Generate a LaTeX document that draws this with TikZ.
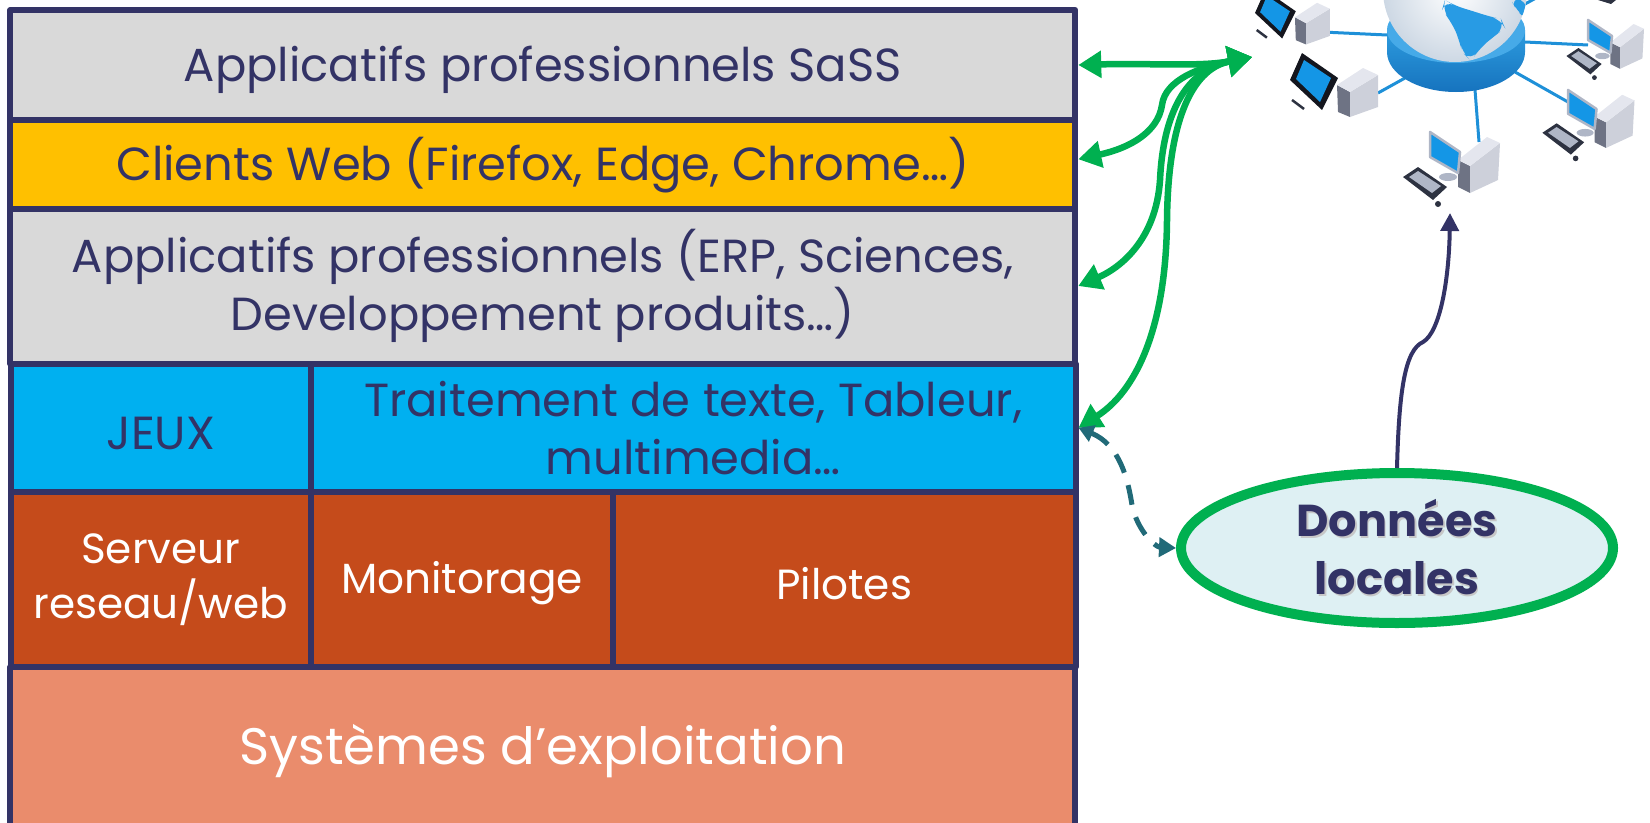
\documentclass[tikz,border=0pt]{standalone}
\usepackage{fontspec}
\setmainfont{Poppins}
\usetikzlibrary{arrows.meta,shapes.geometric}

% grey copy of a word, set just below and right of it
\newcommand{\shadowed}[1]{\makebox[0pt][l]{\hspace{0.15mm}\raisebox{-0.15mm}{\textcolor{black!22}{#1}}}#1}

\begin{document}
\begin{tikzpicture}[x=0.1mm,y=-0.1mm,line join=round,
    cell/.style={draw=frame,line width=0.6mm,inner sep=0pt,align=center,
      text=ink,font={\fontsize{13.2}{16.5}\selectfont},
      execute at begin node={\rule{0pt}{0.95em}}},
    wide/.style={cell,minimum width=106.5mm},
    low/.style={cell,fill=sysbrown,text=white,minimum height=17.5mm,
      font={\fontsize{12}{15.5}\selectfont}},
    link/.style={linkgreen,line width=0.65mm,
      arrows={Triangle[length=2.3mm,width=2.6mm]-Triangle[length=2.4mm,width=3mm]}},
    cable/.style={draw=cableblue,line width=0.3mm}]

    \definecolor{frame}{RGB}{51,51,102}
    \definecolor{ink}{RGB}{51,51,102}
    \definecolor{appgray}{RGB}{217,217,217}
    \definecolor{webyellow}{RGB}{255,192,0}
    \definecolor{userblue}{RGB}{0,176,240}
    \definecolor{sysbrown}{RGB}{197,75,27}
    \definecolor{ossalmon}{RGB}{234,140,108}
    \definecolor{linkgreen}{RGB}{0,176,80}
    \definecolor{dashteal}{RGB}{33,106,120}
    \definecolor{datafill}{RGB}{222,240,243}
    \definecolor{cableblue}{RGB}{30,144,216}
    \definecolor{diskblue}{RGB}{45,155,222}
    \definecolor{diskdark}{RGB}{22,115,190}
    \definecolor{disktop}{RGB}{70,170,232}
    \definecolor{globegray}{RGB}{205,216,228}
    \definecolor{landblue}{RGB}{40,155,228}
    \definecolor{bezel}{RGB}{20,22,30}
    \definecolor{screenblue}{RGB}{20,150,230}
    \definecolor{towerlight}{RGB}{205,208,218}
    \definecolor{towerdark}{RGB}{110,115,132}
    \definecolor{towertop}{RGB}{228,230,238}
    \definecolor{keydark}{RGB}{45,50,65}
    \definecolor{keylight}{RGB}{175,182,198}

    \useasboundingbox (0,0) rectangle (1650,822);

    % software stack
    \node[wide,fill=appgray,minimum height=11mm] (saas) at (542.75,65) {Applicatifs professionnels SaSS};
    \node[wide,fill=webyellow,minimum height=8.85mm] (web) at (542.75,164.25) {Clients Web (Firefox, Edge, Chrome…)};
    \node[wide,fill=appgray,minimum height=15.5mm] (erp) at (542.75,286) {Applicatifs professionnels (ERP, Sciences,\\Developpement produits…)};
    \node[cell,fill=userblue,minimum width=30.05mm,minimum height=12.85mm] (jeux) at (160.75,427.75) {JEUX};
    \node[cell,fill=userblue,minimum width=76.45mm,minimum height=12.85mm] (bureau) at (693.25,427.75) {Traitement de texte, Tableur,\\multimedia…};
    \node[low,minimum width=30.05mm] (serveur) at (160.75,579.5) {Serveur\\reseau/web};
    \node[low,minimum width=30.2mm] (monitor) at (462,579.5) {Monitorage};
    \node[low,minimum width=46.25mm] (pilotes) at (844.25,579.5) {Pilotes};
    \node[wide,fill=ossalmon,text=white,minimum height=15.9mm,font={\fontsize{14.6}{18}\selectfont}] (os) at (542.75,746.5) {Systèmes d’exploitation};

    % network: cables under everything
    \draw[cable] (1322,32) -- (1387,35) (1378,93) -- (1405,78) (1475,90) -- (1479,142)
        (1515,72) -- (1568,102) (1525,42) -- (1588,45) (1525,4) -- (1536,-2);

    % hub disk and globe
    \shade[top color=diskblue,bottom color=diskdark] (1387,30) -- (1387,52)
        arc[start angle=180,end angle=0,x radius=69,y radius=40] -- (1525,30) -- cycle;
    \fill[disktop] (1456,30) ellipse[x radius=69,y radius=33];
    \shade[inner color=white,outer color=globegray] (1455,-10) circle[radius=72];
    \begin{scope}
        \clip (1455,-10) circle[radius=72];
        \fill[landblue,rounded corners=3] (1445,0) -- (1455,6) -- (1473,11) -- (1487,16) -- (1501,19)
            -- (1505,28) -- (1492,38) -- (1480,48) -- (1471,61) -- (1462,52) -- (1459,39)
            -- (1452,23) -- (1442,10) -- cycle;
        \fill[landblue,rounded corners=3] (1510,-2) -- (1527,0) -- (1527,20) -- (1517,11) -- cycle;
    \end{scope}

    % tablets with their towers
    \foreach \x/\y/\s in {1290/80/1, 1255/13/0.85} {
        \begin{scope}[shift={(\x,\y)},scale=\s]
            \fill[towerdark] (47,5) -- (60,12) -- (60,37) -- (48,32) -- cycle;
            \fill[towerlight] (60,12) -- (88,-5) -- (88,27) -- (60,37) -- cycle;
            \fill[towertop] (47,5) -- (73,-12) -- (88,-5) -- (60,12) -- cycle;
            \fill[bezel] (0,0) -- (12,-27) -- (48,-2) -- (32,30) -- cycle;
            \fill[screenblue] (6,-1) -- (14,-20) -- (41,-2) -- (30,22) -- cycle;
            \draw[keydark,line width=0.25mm] (2,20) -- (14,29);
        \end{scope}
    }

    % desktops
    \foreach \x/\y/\s in {1430/132/1, 1568/90/0.95, 1588/20/0.8} {
        \begin{scope}[shift={(\x,\y)},scale=\s]
            \fill[keydark] (-27,45) -- (-12,35) -- (17,55) -- (3,68) -- cycle;
            \fill[keylight] (-21,45) -- (-12,39) -- (11,54) -- (2,61) -- cycle;
            \fill[keydark] (8,72) circle[radius=3];
            \fill[towerdark] (28,28) -- (40,34) -- (40,61) -- (28,55) -- cycle;
            \fill[towerlight] (40,34) -- (70,11) -- (68,48) -- (40,61) -- cycle;
            \fill[towertop] (28,28) -- (57,5) -- (70,11) -- (40,34) -- cycle;
            \fill[keylight] (18,45) ellipse[x radius=9,y radius=4];
            \draw[keylight,line width=0.25mm,fill=screenblue] (0,0) -- (30,20) -- (28,41) -- (0,25) -- cycle;
        \end{scope}
    }
    \fill[keydark] (1598,0) -- (1616,0) -- (1611,4) -- cycle;

    \coordinate (hub) at (1252,57);
    \coordinate (net) at (1450,213);

    % local data
    \node[ellipse,draw=linkgreen,line width=1mm,fill=datafill,minimum width=43.2mm,minimum height=15mm,
        inner sep=0pt,align=center,text=ink,font={\bfseries\fontsize{12.7}{16.5}\selectfont}] (data) at (1397,548)
        {\shadowed{Données}\\\shadowed{locales}};

    % links from the stack to the network
    \draw[link] (saas.east) .. controls (1150,63) and (1200,67) .. (hub);
    \draw[link] ([yshift=0.5mm]web.east) .. controls (1130,148) and (1158,132) .. (1162,105)
        .. controls (1165,80) and (1200,67) .. (hub);
    \draw[link] (erp.east) .. controls (1120,268) and (1156,240) .. (1160,180)
        .. controls (1163,115) and (1185,70) .. (hub);
    \draw[link] (bureau.east) .. controls (1135,392) and (1166,330) .. (1167,220)
        .. controls (1168,125) and (1190,69) .. (hub);

    \draw[dashteal,line width=0.5mm,dash pattern=on 2mm off 1.3mm,
        arrows={Triangle[length=1.5mm,width=1.7mm]-Triangle[length=1.7mm,width=1.9mm]}]
        (bureau.east) .. controls (1120,445) and (1128,480) .. (1132,505)
        .. controls (1137,530) and (1155,547) .. (data.west);

    \draw[frame,line width=0.4mm,-{Triangle[length=1.8mm,width=1.8mm]}] (data.north)
        .. controls (1399,390) and (1405,350) .. (1423,342)
        .. controls (1440,332) and (1449,280) .. (net);

\end{tikzpicture}
\end{document}
